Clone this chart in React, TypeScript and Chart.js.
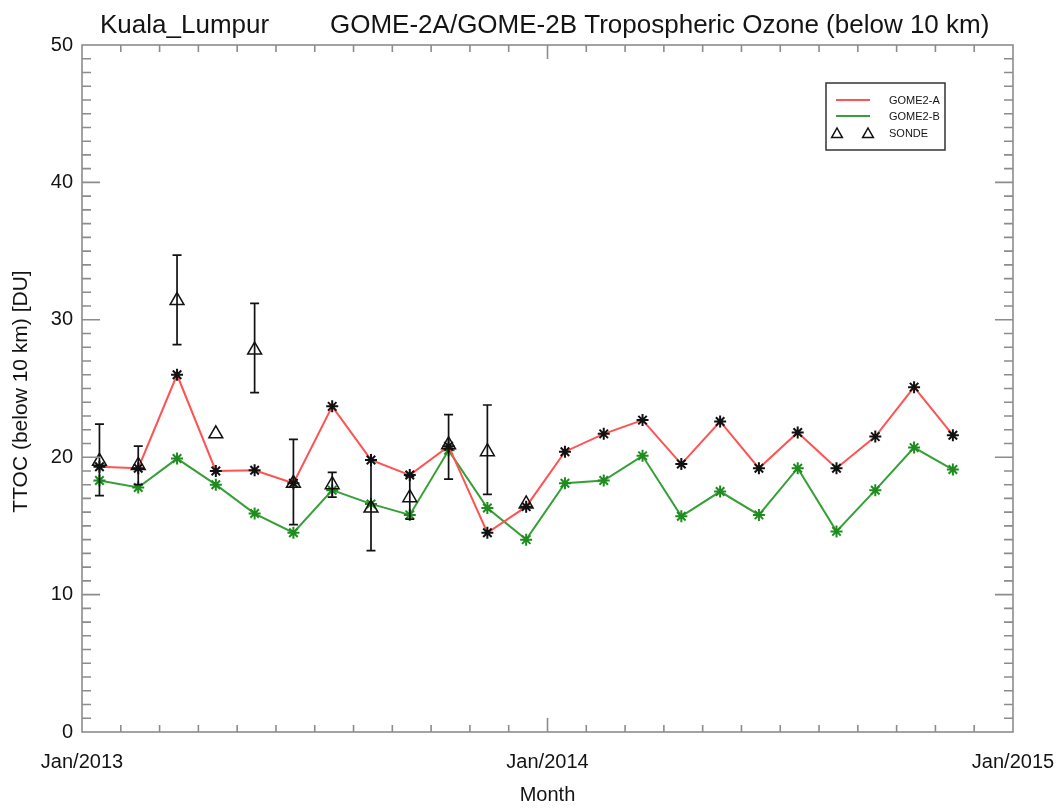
import React, { useEffect, useRef } from 'react';
import { Chart, registerables } from 'chart.js';

Chart.register(...registerables);

// ---------- data ----------
const titleStation = 'Kuala_Lumpur';
const titleMain = 'GOME-2A/GOME-2B Tropospheric Ozone (below 10 km)';
const yAxisTitle = 'TTOC (below 10 km) [DU]';
const xAxisTitle = 'Month';

// month index counted from Jan/2013 (0 = Jan/2013)
const gomeMonths = [0, 1, 2, 3, 4, 5, 6, 7, 8, 9, 10, 11, 12, 13, 14, 15, 16, 17, 18, 19, 20, 21, 22];
const gome2a = [19.3, 19.2, 26.0, 19.0, 19.05, 18.1, 23.7, 19.8, 18.7, 20.8, 14.5, 16.4, 20.4, 21.7, 22.7, 19.5, 22.6, 19.2, 21.8, 19.2, 21.5, 25.1, 21.6];
const gome2b = [18.3, 17.8, 19.9, 18.0, 15.9, 14.5, 17.6, 16.6, 15.8, 20.5, 16.3, 14.0, 18.1, 18.3, 20.1, 15.7, 17.5, 15.8, 19.2, 14.6, 17.6, 20.7, 19.1];

const sondeMonths = [0, 1, 2, 3, 4, 5, 6, 7, 8, 9, 10, 11];
const sonde = [19.7, 19.4, 31.4, 21.7, 27.8, 18.1, 18.0, 16.3, 17.05, 20.9, 20.4, 16.6];
const sondeHigh: (number | null)[] = [22.4, 20.8, 34.7, null, 31.2, 21.3, 18.9, 19.8, 18.6, 23.1, 23.8, null];
const sondeLow: (number | null)[] = [17.2, 18.0, 28.2, null, 24.7, 15.1, 17.1, 13.2, 15.5, 18.4, 17.3, null];

const xTickValues = [0, 12, 24];
const xTickLabels = ['Jan/2013', 'Jan/2014', 'Jan/2015'];
const seriesLabels = ['GOME2-A', 'GOME2-B', 'SONDE'];

// ---------- style ----------
const MID = 0.45; // data sit at mid-month
const FONT = '"Liberation Sans", Arial, Helvetica, sans-serif';
const TEXT = '#141414';
const AXIS = '#8c8c8c';
const RED = '#ff5252';
const GREEN = '#35a035';
const GREEN_MARK = '#1f8c1f';

const errorBarPlugin = {
  id: 'errorBars',
  afterDatasetsDraw(chart: any) {
    const { ctx, scales } = chart;
    const x = scales.x, y = scales.y;
    ctx.save();
    ctx.strokeStyle = '#111';
    ctx.lineWidth = 1.7;
    sondeMonths.forEach((m, i) => {
      const hi = sondeHigh[i], lo = sondeLow[i];
      if (hi == null || lo == null) return;
      const px = x.getPixelForValue(m + MID);
      const yt = y.getPixelForValue(hi);
      const yb = y.getPixelForValue(lo);
      ctx.beginPath();
      ctx.moveTo(px, yt); ctx.lineTo(px, yb);
      ctx.moveTo(px - 4.5, yt); ctx.lineTo(px + 4.5, yt);
      ctx.moveTo(px - 4.5, yb); ctx.lineTo(px + 4.5, yb);
      ctx.stroke();
    });
    ctx.restore();
  },
};

function drawTriangle(ctx: CanvasRenderingContext2D, cx: number, cy: number, r: number) {
  ctx.beginPath();
  ctx.moveTo(cx, cy - r);
  ctx.lineTo(cx + r * 0.9, cy + r * 0.6);
  ctx.lineTo(cx - r * 0.9, cy + r * 0.6);
  ctx.closePath();
  ctx.stroke();
}

const framePlugin = {
  id: 'idlFrame',
  afterDraw(chart: any) {
    const { ctx, chartArea, scales } = chart;
    const { left, right, top, bottom } = chartArea;
    const x = scales.x, y = scales.y;
    ctx.save();
    // frame
    ctx.strokeStyle = AXIS;
    ctx.lineWidth = 1.6;
    ctx.strokeRect(left, top, right - left, bottom - top);
    // y ticks (every unit, major every 10)
    ctx.beginPath();
    for (let v = 1; v < 50; v++) {
      const py = y.getPixelForValue(v);
      const len = v % 10 === 0 ? 18 : 9;
      ctx.moveTo(left, py); ctx.lineTo(left + len, py);
      ctx.moveTo(right, py); ctx.lineTo(right - len, py);
    }
    // x ticks (every month, major every 12)
    for (let m = 1; m < 24; m++) {
      const px = x.getPixelForValue(m);
      const len = m % 12 === 0 ? 14 : 7;
      ctx.moveTo(px, bottom); ctx.lineTo(px, bottom - len);
      ctx.moveTo(px, top); ctx.lineTo(px, top + len);
    }
    ctx.stroke();

    // titles
    ctx.fillStyle = TEXT;
    ctx.font = `26px ${FONT}`;
    ctx.textBaseline = 'alphabetic';
    ctx.textAlign = 'left';
    ctx.fillText(titleStation, 100, 33);
    ctx.fillText(titleMain, 330, 33);

    ctx.font = `20px ${FONT}`;
    ctx.textAlign = 'center';
    ctx.textBaseline = 'middle';
    ctx.fillText(xAxisTitle, (left + right) / 2, 795);
    ctx.save();
    ctx.font = `21px ${FONT}`;
    ctx.translate(21, (top + bottom) / 2 + 3);
    ctx.rotate(-Math.PI / 2);
    ctx.fillText(yAxisTitle, 0, 0);
    ctx.restore();

    // legend
    const bx = 826, by = 83, bw = 119, bh = 67;
    ctx.fillStyle = '#fff';
    ctx.fillRect(bx, by, bw, bh);
    ctx.strokeStyle = '#333';
    ctx.lineWidth = 1.5;
    ctx.strokeRect(bx, by, bw, bh);
    const rows = [100, 116, 133];
    ctx.lineWidth = 2;
    ctx.strokeStyle = RED;
    ctx.beginPath(); ctx.moveTo(836, rows[0]); ctx.lineTo(870, rows[0]); ctx.stroke();
    ctx.strokeStyle = GREEN;
    ctx.beginPath(); ctx.moveTo(836, rows[1]); ctx.lineTo(870, rows[1]); ctx.stroke();
    ctx.strokeStyle = '#111';
    ctx.lineWidth = 1.5;
    drawTriangle(ctx, 837, rows[2] + 1, 6);
    drawTriangle(ctx, 868, rows[2] + 1, 6);
    ctx.fillStyle = TEXT;
    ctx.font = `11px ${FONT}`;
    ctx.textAlign = 'left';
    ctx.textBaseline = 'middle';
    seriesLabels.forEach((t, i) => ctx.fillText(t, 889, rows[i] + 1));
    ctx.restore();
  },
};

export default function App() {
  const ref = useRef<HTMLCanvasElement>(null);
  useEffect(() => {
    if (!ref.current) return;
    const chart = new Chart(ref.current, {
      type: 'line',
      data: {
        datasets: [
          {
            label: seriesLabels[2],
            data: sondeMonths.map((m, i) => ({ x: m + MID, y: sonde[i] })),
            showLine: false,
            pointStyle: 'triangle',
            pointRadius: 8,
            pointBorderColor: '#111',
            pointBackgroundColor: 'rgba(0,0,0,0)',
            pointBorderWidth: 1.5,
          },
          {
            label: seriesLabels[0],
            data: gomeMonths.map((m, i) => ({ x: m + MID, y: gome2a[i] })),
            borderColor: RED,
            borderWidth: 2,
            pointStyle: 'star',
            pointRadius: 6,
            pointBorderColor: '#111',
            pointBackgroundColor: '#111',
            pointBorderWidth: 2,
          },
          {
            label: seriesLabels[1],
            data: gomeMonths.map((m, i) => ({ x: m + MID, y: gome2b[i] })),
            borderColor: GREEN,
            borderWidth: 2,
            pointStyle: 'star',
            pointRadius: 6,
            pointBorderColor: GREEN_MARK,
            pointBackgroundColor: GREEN_MARK,
            pointBorderWidth: 2,
          },
        ],
      },
      options: {
        animation: false,
        responsive: false,
        devicePixelRatio: 1,
        layout: { padding: { left: 0, right: 49, top: 45, bottom: 38 } },
        plugins: {
          legend: { display: false },
          title: { display: false },
          tooltip: { enabled: false },
        },
        scales: {
          x: {
            type: 'linear',
            min: 0,
            max: 24,
            grid: { display: false, drawTicks: false },
            border: { display: false },
            afterBuildTicks: (s: any) => {
              s.ticks = xTickValues.map((v) => ({ value: v }));
            },
            afterFit: (s: any) => {
              s.height = 40;
              s.paddingLeft = 0;
              s.paddingRight = 0;
            },
            ticks: {
              autoSkip: false,
              maxRotation: 0,
              padding: 18,
              color: TEXT,
              font: { family: FONT, size: 20 },
              callback: (v: any) => xTickLabels[xTickValues.indexOf(Number(v))],
            },
          },
          y: {
            type: 'linear',
            min: 0,
            max: 50,
            grid: { display: false, drawTicks: false },
            border: { display: false },
            afterFit: (s: any) => {
              s.width = 82;
              s.paddingTop = 0;
              s.paddingBottom = 0;
            },
            ticks: {
              stepSize: 10,
              padding: 9,
              color: TEXT,
              font: { family: FONT, size: 20 },
            },
          },
        },
      } as any,
      plugins: [errorBarPlugin, framePlugin],
    });
    return () => chart.destroy();
  }, []);
  return (
    <div style={{ position: 'absolute', left: 0, top: 0, width: 1062, height: 810, background: '#fff' }}>
      <canvas ref={ref} width={1062} height={810} style={{ display: 'block' }} />
    </div>
  );
}
